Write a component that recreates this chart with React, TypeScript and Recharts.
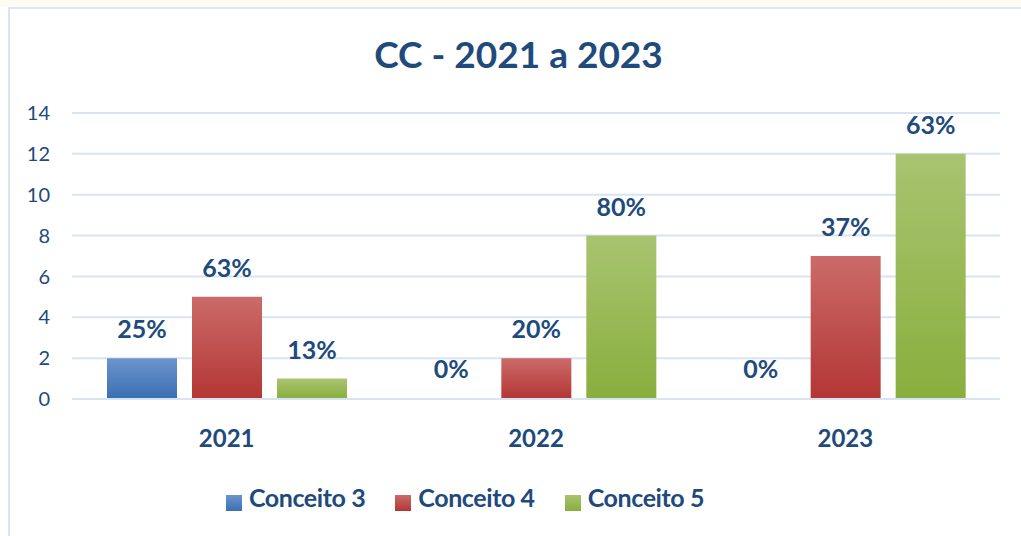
import { BarChart, Bar, XAxis, YAxis, CartesianGrid, Legend, LabelList, Cell } from 'recharts';

const years = ['2021', '2022', '2023'];
const conceito3 = [2, 0, 0];
const conceito4 = [5, 2, 7];
const conceito5 = [1, 8, 12];
const pct3 = ['25%', '0%', '0%'];
const pct4 = ['63%', '20%', '37%'];
const pct5 = ['13%', '80%', '63%'];
const yTicks = [0, 2, 4, 6, 8, 10, 12, 14];

const data = years.map((year, i) => ({
    year,
    c3: conceito3[i],
    c4: conceito4[i],
    c5: conceito5[i],
    p3: pct3[i],
    p4: pct4[i],
    p5: pct5[i],
}));

const TEXT = '#204A7C';
const FONT = 'Lato, "Open Sans", sans-serif';

const labelStyle = { fill: TEXT, fontSize: 25, fontWeight: 700, fontFamily: FONT };

const App = () => {
    return (
        <div style={{ position: 'absolute', left: 0, top: 0, width: 1021, height: 536, background: '#ffffff', fontFamily: FONT }}>
            <div style={{ position: 'absolute', left: 0, top: 0, width: 1021, height: 7, background: '#FDFCF2' }} />
            <div style={{ position: 'absolute', left: 8, top: 7, width: 1013, height: 529, borderLeft: '2px solid #DCE5F1', borderTop: '2px solid #DCE5F1', boxSizing: 'border-box' }} />
            <div style={{ position: 'absolute', left: 8, top: 28, width: 1021, textAlign: 'center', color: TEXT, fontSize: 37, fontWeight: 700, lineHeight: '52px' }}>
                CC - 2021 a 2023
            </div>
            <div style={{ position: 'absolute', left: 0, top: 0 }}>
                <BarChart
                    width={1021}
                    height={536}
                    data={data}
                    margin={{ top: 113, right: 21, left: 0, bottom: 10 }}
                    barSize={70}
                    barGap={15}
                >
                    <defs>
                        <linearGradient id="g3" x1="0" y1="0" x2="0" y2="1">
                            <stop offset="0%" stopColor="#6D94CC" />
                            <stop offset="100%" stopColor="#3A6FB4" />
                        </linearGradient>
                        <linearGradient id="g4" x1="0" y1="0" x2="0" y2="1">
                            <stop offset="0%" stopColor="#CB6B69" />
                            <stop offset="100%" stopColor="#B33634" />
                        </linearGradient>
                        <linearGradient id="g5" x1="0" y1="0" x2="0" y2="1">
                            <stop offset="0%" stopColor="#A8C470" />
                            <stop offset="100%" stopColor="#89AE3D" />
                        </linearGradient>
                    </defs>
                    <CartesianGrid horizontal={true} vertical={false} stroke="#D9E4F2" strokeWidth={2} />
                    <XAxis
                        dataKey="year"
                        axisLine={{ stroke: '#D9E4F2', strokeWidth: 2 }}
                        tickLine={false}
                        tickSize={0}
                        tickMargin={31}
                        height={70}
                        tick={{ fill: TEXT, fontSize: 24, fontWeight: 700, fontFamily: FONT }}
                    />
                    <YAxis
                        domain={[0, 14]}
                        ticks={yTicks}
                        width={72}
                        axisLine={false}
                        tickLine={false}
                        tickSize={0}
                        tickMargin={22}
                        tick={{ fill: TEXT, fontSize: 20, fontFamily: FONT }}
                    />
                    <Legend
                        verticalAlign="bottom"
                        align="center"
                        height={57}
                        iconType="square"
                        iconSize={16}
                        formatter={(value) => (
                            <span style={{ color: TEXT, fontSize: 25, fontWeight: 700, fontFamily: FONT, letterSpacing: -0.4, marginRight: 20, marginLeft: 3 }}>{value}</span>
                        )}
                        wrapperStyle={{ lineHeight: '57px', left: -20 }}
                    />
                    <Bar dataKey="c3" name="Conceito 3" fill="url(#g3)" minPointSize={1} isAnimationActive={false}>
                        {conceito3.map((v, i) => (
                            <Cell key={`c3-${i}`} fill={v === 0 ? 'transparent' : 'url(#g3)'} />
                        ))}
                        <LabelList dataKey="p3" position="top" offset={20} style={labelStyle} />
                    </Bar>
                    <Bar dataKey="c4" name="Conceito 4" fill="url(#g4)" isAnimationActive={false}>
                        <LabelList dataKey="p4" position="top" offset={20} style={labelStyle} />
                    </Bar>
                    <Bar dataKey="c5" name="Conceito 5" fill="url(#g5)" isAnimationActive={false}>
                        <LabelList dataKey="p5" position="top" offset={20} style={labelStyle} />
                    </Bar>
                </BarChart>
            </div>
        </div>
    );
};

export default App;
